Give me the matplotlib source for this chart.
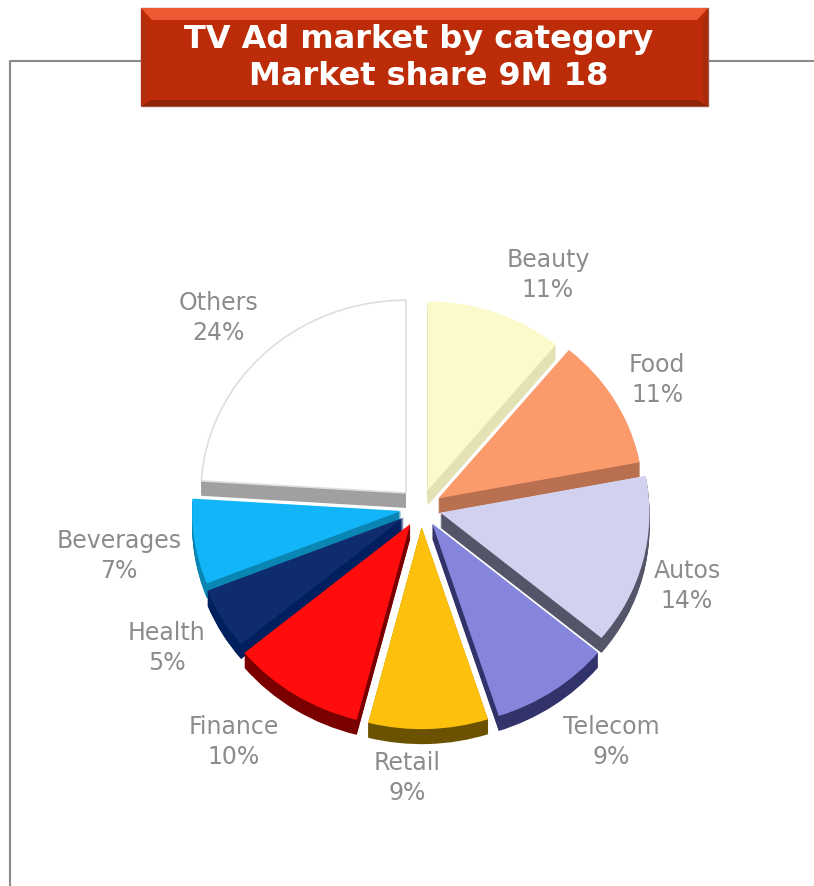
import matplotlib
matplotlib.use("Agg")
import matplotlib.pyplot as plt
from matplotlib.patches import Polygon, Rectangle

categories = ["Beauty", "Food", "Autos", "Telecom", "Retail", "Finance", "Health", "Beverages", "Others"]
shares = [11, 11, 14, 9, 9, 10, 5, 7, 24]
top_colors = ["#FBFACB", "#FB9A6A", "#D2D2F0", "#8585DC", "#FDC00D", "#FF0D0D", "#0F2D6E", "#12B5F8", "#FFFFFF"]
side_colors = ["#E2E2B4", "#B87050", "#55556A", "#33336B", "#6B5200", "#7A0000", "#001F5F", "#0A86B4", "#A0A0A0"]
label_x = [548, 657, 687, 611, 407, 234, 167, 119, 218]
label_y = [275, 380, 586, 742, 778, 742, 648, 556, 318]

W, H = 814, 886
Y_SCALE = 0.94  # the pie is tilted, so circles come out squashed


def py(y):
    return (H - y) / Y_SCALE


fig = plt.figure(figsize=(W / 100, H / 100), dpi=100)
ax = fig.add_axes([0, 0, 1, 1])

# pie() takes explode in data units here, not as a share of the radius
explode = [20, 20, 20, 20, 20, 20, 20, 20, 22]
cx, cy, radius = 421, 508, 205
# front slices look bigger in the original (perspective)
persp = [0.98, 1.0, 1.02, 1.05, 1.05, 1.05, 1.03, 1.02, 1.0]


def draw_pie(colors, y):
    wedges, _ = ax.pie(shares, explode=explode, colors=colors, startangle=90,
                       counterclock=False, radius=radius, center=(cx, py(y)),
                       wedgeprops={"linewidth": 0})
    for w, k in zip(wedges, persp):
        w.set_radius(radius * k)
    return wedges


# depth: same pie stacked downwards
for d in range(15, 0, -1):
    draw_pie(side_colors, cy + d)

wedges = draw_pie(top_colors, cy)
wedges[-1].set_edgecolor("#DEDEDE")
wedges[-1].set_linewidth(1.2)

ax.set_aspect("auto")
ax.set_xlim(0, W)
ax.set_ylim(0, H / Y_SCALE)
ax.axis("off")

for name, val, x, y in zip(categories, shares, label_x, label_y):
    ax.text(x, py(y), f"{name}\n{val}%", ha="center", va="center", fontsize=17,
            color="#8C8C8C", linespacing=1.3)

# outer frame
ax.plot([10, 10, 141], [py(886), py(61), py(61)], color="#8A8A8A", lw=1.5, solid_capstyle="butt")
ax.plot([708, 814], [py(61), py(61)], color="#8A8A8A", lw=1.5, solid_capstyle="butt")

# title box with bevel
l, r, t, b = 141, 708, 8, 106
ax.add_patch(Rectangle((l, py(b)), r - l, py(t) - py(b), fc="#BC2C08", ec="#A05A48", lw=1, zorder=5))
ax.add_patch(Polygon([(l, py(t)), (r, py(t)), (r - 11, py(t + 12)), (l + 11, py(t + 12))], fc="#EE5A34", lw=0, zorder=6))
ax.add_patch(Polygon([(l, py(b)), (r, py(b)), (r - 11, py(b - 6)), (l + 11, py(b - 6))], fc="#8E2408", lw=0, zorder=6))
ax.add_patch(Polygon([(l, py(t)), (l + 5, py(t + 12)), (l + 5, py(b - 6)), (l, py(b))], fc="#B03010", lw=0, zorder=6))
ax.add_patch(Polygon([(r, py(t)), (r - 5, py(t + 12)), (r - 5, py(b - 6)), (r, py(b))], fc="#A82C0C", lw=0, zorder=6))
ax.text(419, py(39), "TV Ad market by category", ha="center", va="center", fontsize=23,
        fontweight="bold", color="white", zorder=7)
ax.text(429, py(76), "Market share 9M 18", ha="center", va="center", fontsize=23,
        fontweight="bold", color="white", zorder=7)

fig.savefig("out.png", dpi=100)
